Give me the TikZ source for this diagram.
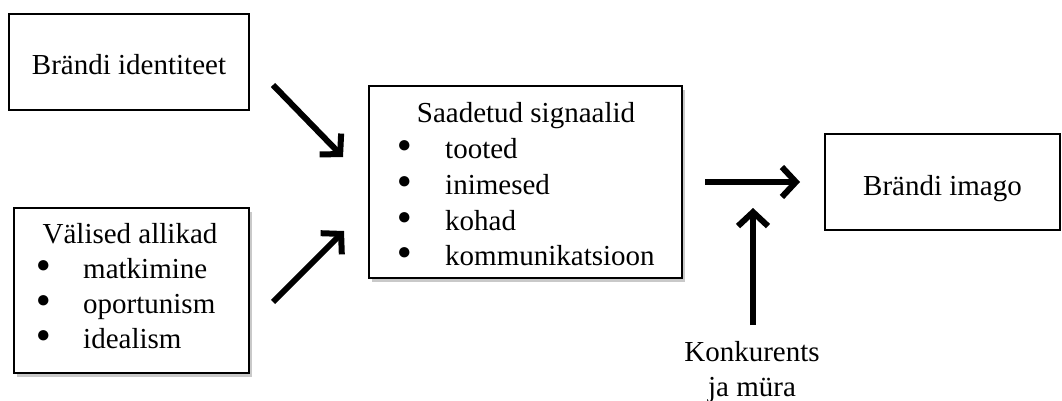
\documentclass[tikz,border=0pt]{standalone}
\usepackage{fontspec}
\setmainfont{Liberation Serif}
\usetikzlibrary{arrows.meta,shadows}
\newcommand{\bul}{\raisebox{6pt}{\fontsize{24}{24}\selectfont ●}}
\begin{document}
\begin{tikzpicture}[x=1pt,y=-1pt,
  box/.style={draw, line width=2pt, fill=white, inner sep=0pt},
  shad/.style={drop shadow={shadow xshift=3pt, shadow yshift=-4pt, opacity=0.3, fill=black!70}},
  txt/.style={inner sep=0pt, font=\fontsize{29}{35}\selectfont},
  arr/.style={line width=6pt, -{Straight Barb[length=14pt,width=30pt]}}]
\useasboundingbox (0,0) rectangle (1062,401);
% boxes
\node[box, minimum width=240pt, minimum height=96pt] (bi) at (129,62) {};
\node[box, shad, minimum width=235pt, minimum height=165pt] (va) at (131.5,290.5) {};
\node[box, shad, minimum width=313pt, minimum height=192pt] (ss) at (525.5,182) {};
\node[box, minimum width=235pt, minimum height=96pt] (im) at (942.5,182) {};
% texts
\node[txt, anchor=base] (t1) at (129,75) {Brändi identiteet};
\node[txt, anchor=base] (t4) at (942.5,195) {Brändi imago};
\node[txt, anchor=base] (v0) at (130,243) {Välised allikad};
\node[txt, anchor=base west] (vb1) at (36,278) {\bul};
\node[txt, anchor=base west] (vt1) at (83,278) {matkimine};
\node[txt, anchor=base west] (vb2) at (36,313) {\bul};
\node[txt, anchor=base west] (vt2) at (83,313) {oportunism};
\node[txt, anchor=base west] (vb3) at (36,348) {\bul};
\node[txt, anchor=base west] (vt3) at (83,348) {idealism};
\node[txt, anchor=base] (s0) at (526,123) {Saadetud signaalid};
\node[txt, anchor=base west] (sb1) at (397,158) {\bul};
\node[txt, anchor=base west] (st1) at (445,158) {tooted};
\node[txt, anchor=base west] (sb2) at (397,194) {\bul};
\node[txt, anchor=base west] (st2) at (445,194) {inimesed};
\node[txt, anchor=base west] (sb3) at (397,230) {\bul};
\node[txt, anchor=base west] (st3) at (445,230) {kohad};
\node[txt, anchor=base west] (sb4) at (397,265) {\bul};
\node[txt, anchor=base west] (st4) at (445,265) {kommunikatsioon};
\node[txt, anchor=base, align=center] (kj) at (752,396) {Konkurents\\ja müra};
% arrow end points
\coordinate (a1s) at (273,85);
\coordinate (a1e) at (343,157);
\coordinate (a2s) at (273,302);
\coordinate (a2e) at (344,231);
\coordinate (a3s) at (705,182);
\coordinate (a3e) at (800,182);
\coordinate (a4s) at (753,325);
\coordinate (a4e) at (753,208);
\draw[arr] (a1s) -- (a1e);
\draw[arr] (a2s) -- (a2e);
\draw[arr] (a3s) -- (a3e);
\draw[arr] (a4s) -- (a4e);
\end{tikzpicture}
\end{document}
